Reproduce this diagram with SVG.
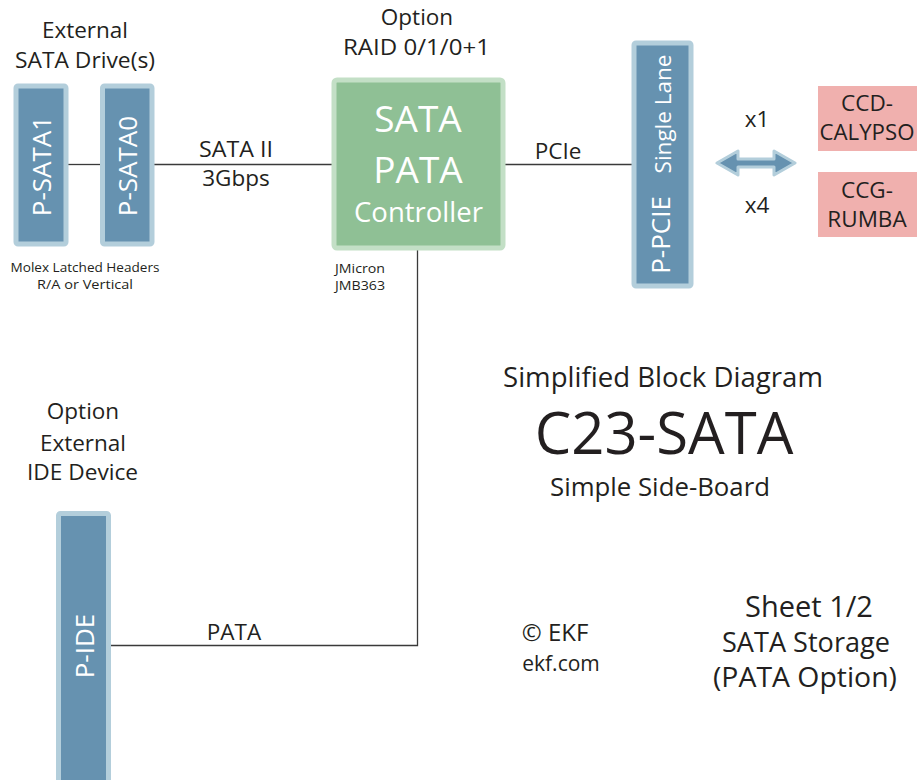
<svg xmlns="http://www.w3.org/2000/svg" width="919" height="780" viewBox="0 0 919 780">
<defs>
<style>
text{font-family:"Open Sans","Liberation Sans",sans-serif;fill:#231f20;text-anchor:middle}
.conn{stroke:#3a3a3a;stroke-width:1.3;fill:none}
.hdr{fill:#6692b0;stroke:#b3cedb;stroke-width:5}
.hdrt{fill:#ffffff;font-size:26px}
.ctl{fill:#8fc095;stroke:#c3dfc6;stroke-width:5}
.pink{fill:#f0b0ae}
.lbl{font-size:22.5px}
.sm{font-size:12.5px}
</style>
</defs>
<rect width="919" height="780" fill="#ffffff"/>
<g id="connectors">
<line class="conn" x1="68" y1="164.5" x2="100" y2="164.5"/>
<line class="conn" x1="154" y1="164.5" x2="332" y2="164.5"/>
<line class="conn" x1="505" y1="164.5" x2="632" y2="164.5"/>
<polyline class="conn" points="417.5,250 417.5,645.5 111,645.5"/>
<polygon points="717,163 738,151 738,159 774,159 774,151 795,163 774,175 774,167 738,167 738,175" fill="#6692b0" stroke="#b3cedb" stroke-width="3" stroke-linejoin="round"/>
<text class="lbl" x="236" y="157" textLength="74" lengthAdjust="spacingAndGlyphs">SATA II</text>
<text class="lbl" x="236" y="186">3Gbps</text>
<text class="lbl" x="558" y="159">PCIe</text>
<text class="lbl" x="757" y="127">x1</text>
<text class="lbl" x="757" y="213">x4</text>
<text class="lbl" x="234" y="640">PATA</text>
</g>
<g id="title-sata-drives">
<text class="lbl" x="85" y="38">External</text>
<text class="lbl" x="85" y="68" textLength="140" lengthAdjust="spacingAndGlyphs">SATA Drive(s)</text>
</g>
<g id="p-sata1">
<rect class="hdr" x="16" y="86" width="50" height="158" rx="2"/>
<text class="hdrt" transform="translate(51,166) rotate(-90)">P-SATA1</text>
</g>
<g id="p-sata0">
<rect class="hdr" x="102.5" y="86" width="49.5" height="158" rx="2"/>
<text class="hdrt" transform="translate(137,166) rotate(-90)">P-SATA0</text>
</g>
<g id="molex-note">
<text class="sm" x="85" y="272" textLength="149" lengthAdjust="spacingAndGlyphs">Molex Latched Headers</text>
<text class="sm" x="85" y="289" textLength="96" lengthAdjust="spacingAndGlyphs">R/A or Vertical</text>
</g>
<g id="controller">
<text class="lbl" x="417" y="25">Option</text>
<text class="lbl" x="416.5" y="55" textLength="147" lengthAdjust="spacingAndGlyphs">RAID 0/1/0+1</text>
<rect class="ctl" x="334" y="80" width="169" height="168" rx="3"/>
<text x="418" y="132" style="fill:#fff;font-size:37px">SATA</text>
<text x="418" y="183" style="fill:#fff;font-size:37px">PATA</text>
<text x="418.5" y="222" style="fill:#fff;font-size:27.5px">Controller</text>
<text class="sm" x="335" y="273" style="text-anchor:start" textLength="50" lengthAdjust="spacingAndGlyphs">JMicron</text>
<text class="sm" x="335" y="290" style="text-anchor:start" textLength="50" lengthAdjust="spacingAndGlyphs">JMB363</text>
</g>
<g id="p-pcie">
<rect class="hdr" x="634" y="43" width="57" height="243" rx="2"/>
<text class="hdrt" transform="translate(670,235) rotate(-90)">P-PCIE</text>
<text transform="translate(671,114) rotate(-90)" style="fill:#fff;font-size:22.5px">Single Lane</text>
</g>
<g id="ccd-calypso">
<rect class="pink" x="818" y="86" width="99" height="65"/>
<text class="lbl" x="867" y="111">CCD-</text>
<text class="lbl" x="867" y="140" textLength="95" lengthAdjust="spacingAndGlyphs">CALYPSO</text>
</g>
<g id="ccg-rumba">
<rect class="pink" x="818" y="172" width="99" height="65"/>
<text class="lbl" x="867" y="198">CCG-</text>
<text class="lbl" x="867" y="227">RUMBA</text>
</g>
<g id="title-ide">
<text class="lbl" x="83" y="419">Option</text>
<text class="lbl" x="83" y="451">External</text>
<text class="lbl" x="82.5" y="480" textLength="111" lengthAdjust="spacingAndGlyphs">IDE Device</text>
</g>
<g id="p-ide">
<rect class="hdr" x="58.5" y="513.5" width="50" height="280" rx="2"/>
<text class="hdrt" transform="translate(94,646) rotate(-90)">P-IDE</text>
</g>
<g id="title-block">
<text x="663" y="387" style="font-size:26.5px" textLength="320" lengthAdjust="spacingAndGlyphs">Simplified Block Diagram</text>
<text x="664" y="454" style="font-size:58px">C23-SATA</text>
<text x="660" y="496" style="font-size:25px" textLength="220" lengthAdjust="spacingAndGlyphs">Simple Side-Board</text>
</g>
<g id="copyright">
<text x="555" y="641" style="font-size:24px">© EKF</text>
<text x="561" y="671" style="font-size:21px">ekf.com</text>
</g>
<g id="sheet">
<text x="809" y="617" style="font-size:29px">Sheet 1/2</text>
<text x="806" y="652" style="font-size:26.5px" textLength="168" lengthAdjust="spacingAndGlyphs">SATA Storage</text>
<text x="805" y="687" style="font-size:26.5px" textLength="184" lengthAdjust="spacingAndGlyphs">(PATA Option)</text>
</g>
</svg>
